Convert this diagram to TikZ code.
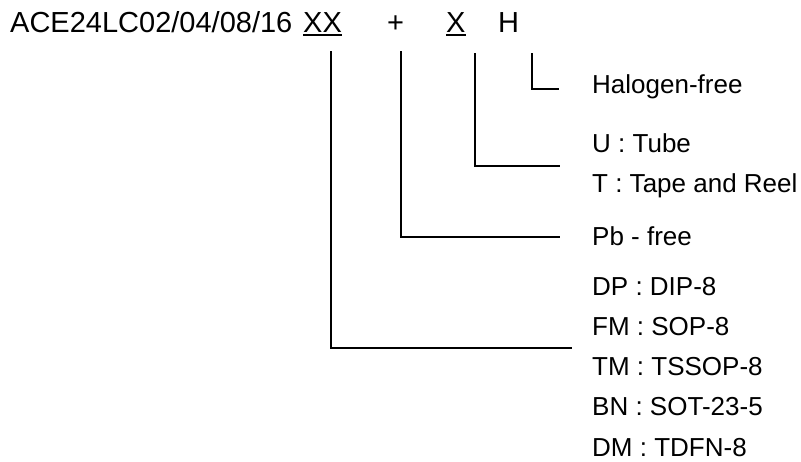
\documentclass[tikz,border=0pt]{standalone}
\usepackage{fontspec}
\setmainfont{Liberation Sans}
\begin{document}
\begin{tikzpicture}[x=1pt,y=1pt,
  big/.style={inner sep=0pt,anchor=base west,font=\fontsize{29}{34}\selectfont},
  lbl/.style={inner sep=0pt,anchor=base west,font=\fontsize{26}{30}\selectfont},
  conn/.style={line width=1.3pt},
  uline/.style={line width=2pt}]
\useasboundingbox (0,0) rectangle (801,-461);
% top part number
\node[big] (pn) at (10,-32) {ACE24LC02/04/08/16};
\node[big] (xx) at (303,-32) {XX};
\node[big] (plus) at (387,-32) {+};
\node[big] (x) at (446,-32) {X};
\node[big] (h) at (498,-32) {H};
\draw[uline] ([yshift=-3pt]xx.base west) -- ([yshift=-3pt]xx.base east);
\draw[uline] ([yshift=-3pt]x.base west) -- ([yshift=-3pt]x.base east);
% labels
\node[lbl] (hal) at (592,-93) {Halogen-free};
\node[lbl] (u) at (592,-152) {U : Tube};
\node[lbl] (t) at (592,-192) {T : Tape and Reel};
\node[lbl] (pb) at (592,-245) {Pb - free};
\node[lbl] (dp) at (592,-295) {DP : DIP-8};
\node[lbl] (fm) at (592,-335) {FM : SOP-8};
\node[lbl] (tm) at (592,-375) {TM : TSSOP-8};
\node[lbl] (bn) at (592,-415) {BN : SOT-23-5};
\node[lbl] (dm) at (592,-456) {DM : TDFN-8};
% connector ends
\coordinate (s1) at (331,-51);
\coordinate (e1) at (572,-348);
\coordinate (s2) at (401,-51);
\coordinate (e2) at (560,-237);
\coordinate (s3) at (475,-53);
\coordinate (e3) at (560,-166);
\coordinate (s4) at (532,-53);
\coordinate (e4) at (559,-89);
\draw[conn] (s1) |- (e1);
\draw[conn] (s2) |- (e2);
\draw[conn] (s3) |- (e3);
\draw[conn] (s4) |- (e4);
\end{tikzpicture}
\end{document}
